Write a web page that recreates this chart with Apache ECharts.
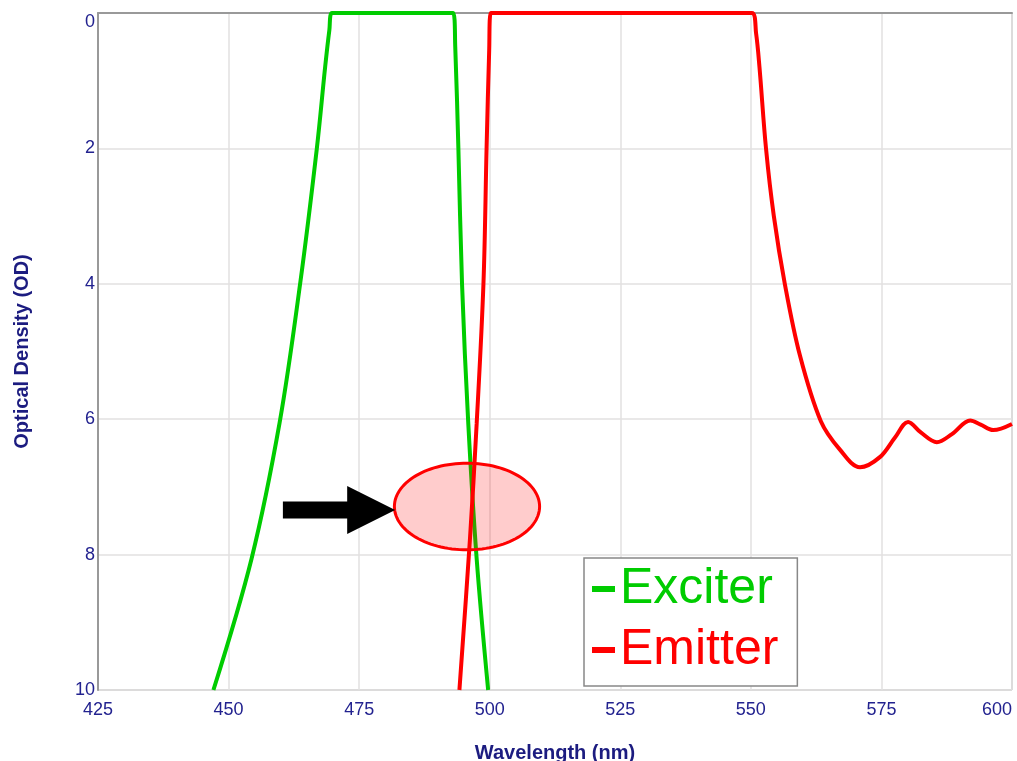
<!DOCTYPE html>
<html>
<head>
<meta charset="utf-8">
<script src="https://cdn.jsdelivr.net/npm/echarts@6/dist/echarts.min.js"></script>
<style>
html,body{margin:0;padding:0;background:#fff;}
#chart{width:1017px;height:761px;}
</style>
</head>
<body>
<div id="chart"></div>
<script>
// ---- data (wavelength in nm, optical density in OD) ----
var xTicks = [425, 450, 475, 500, 525, 550, 575, 600];
var yTicks = [0, 2, 4, 6, 8, 10];

var exciterWavelength = [447.1, 454.4, 459.8, 463.7, 466.9, 468.5, 469.3, 469.8,
                         493.0, 493.4, 494.0, 494.7, 495.9, 497.5, 499.7];
var exciterOD         = [10, 8.06, 6.04, 4.0, 2.0, 0.79, 0.25, 0,
                         0, 0.5, 2.0, 4.0, 6.07, 8.06, 10];

var emitterWavelength = [494.2, 496.2, 497.5, 498.8, 499.4, 499.9, 500.2,
                         550.2, 551.0, 551.65, 552.9, 554.4, 556.5, 559.4, 563.4, 567.05, 570.9,
                         574.7, 577.6, 580.1, 582.6, 585.6, 588.5, 592.0, 594.0, 596.4, 600.0];
var emitterOD         = [10, 7.79, 6.07, 4.0, 2.0, 0.55, 0,
                         0, 0.3, 0.8, 2.0, 3.0, 4.0, 5.06, 6.03, 6.45, 6.71,
                         6.56, 6.27, 6.04, 6.2, 6.34, 6.22, 6.02, 6.08, 6.16, 6.07];

// annotation: highlighted crossover ellipse (center, radii in data units) and arrow (tail -> tip)
var ellipseCenter = [495.65, 7.29];
var ellipseRadius = [13.9, 0.64];
var arrowTail = [460.4, 7.34];
var arrowTip  = [481.9, 7.34];

var seriesNames = ['Exciter', 'Emitter'];
var seriesColors = ['#00cc00', '#ff0000'];

function zip(xs, ys){ var out = []; for (var i = 0; i < xs.length; i++) out.push([xs[i], ys[i]]); return out; }

var labelColor = '#22228f';
var chart = echarts.init(document.getElementById('chart'), null, {renderer: 'canvas'});

var option = {
  animation: false,
  backgroundColor: '#ffffff',
  grid: {left: 98, right: 5, top: 13, bottom: 71, show: true, borderColor: '#999', borderWidth: 1,
         backgroundColor: 'transparent', containLabel: false, outerBoundsMode: 'none'},
  xAxis: {
    type: 'value', min: xTicks[0], max: xTicks[xTicks.length - 1], interval: 25,
    name: 'Wavelength (nm)', nameLocation: 'middle', nameGap: 53,
    nameTextStyle: {color: '#1c1c80', fontFamily: 'Liberation Sans', fontWeight: 'bold', fontSize: 20},
    axisLine: {show: true, lineStyle: {color: '#999', width: 2}},
    axisTick: {show: false},
    axisLabel: {color: labelColor, fontFamily: 'Liberation Sans', fontSize: 18, margin: 11, alignMaxLabel: 'right'},
    splitLine: {show: true, lineStyle: {color: '#e2e0e0', width: 1.5}}
  },
  yAxis: {
    type: 'value', min: yTicks[0], max: yTicks[yTicks.length - 1], interval: 2, inverse: true,
    name: 'Optical Density (OD)', nameLocation: 'middle', nameGap: 66,
    nameTextStyle: {color: '#1c1c80', fontFamily: 'Liberation Sans', fontWeight: 'bold', fontSize: 20},
    axisLine: {show: true, lineStyle: {color: '#999', width: 2}},
    axisTick: {show: false},
    axisLabel: {color: labelColor, fontFamily: 'Liberation Sans', fontSize: 18, margin: 3, verticalAlignMinLabel: 'top'},
    splitLine: {show: true, lineStyle: {color: '#e2e0e0', width: 1.5}}
  },
  legend: {
    orient: 'vertical', left: 584, top: 558,
    padding: [6, 19, 11, 8], itemGap: 11,
    itemWidth: 23, itemHeight: 6, icon: 'rect',
    backgroundColor: '#fff', borderColor: '#888', borderWidth: 1.5,
    textStyle: {fontFamily: 'Liberation Sans', fontSize: 50},
    data: [
      {name: seriesNames[0], textStyle: {color: seriesColors[0]}},
      {name: seriesNames[1], textStyle: {color: seriesColors[1]}}
    ]
  },
  series: [
    {
      name: seriesNames[0], type: 'line', data: zip(exciterWavelength, exciterOD),
      showSymbol: false, symbol: 'none', smooth: 0.35,
      lineStyle: {color: seriesColors[0], width: 4}, itemStyle: {color: seriesColors[0]}, z: 2
    },
    {
      name: seriesNames[1], type: 'line', data: zip(emitterWavelength, emitterOD),
      showSymbol: false, symbol: 'none', smooth: 0.35,
      lineStyle: {color: seriesColors[1], width: 4}, itemStyle: {color: seriesColors[1]}, z: 3
    },
    {
      name: 'annotation', type: 'custom', clip: false, z: 10, silent: true,
      data: [ellipseCenter],
      encode: {x: 0, y: 1},
      renderItem: function (params, api) {
        var c = api.coord(ellipseCenter);
        var s = api.size(ellipseRadius);
        var rx = Math.abs(s[0]), ry = Math.abs(s[1]);
        var pts = [];
        for (var i = 0; i < 120; i++) {
          var a = i / 120 * Math.PI * 2;
          pts.push([c[0] + rx * Math.cos(a), c[1] + ry * Math.sin(a)]);
        }
        var t0 = api.coord(arrowTail), t1 = api.coord(arrowTip);
        var headLen = 48, headHalf = 24, shaftHalf = 8.5;
        var bx = t1[0] - headLen, y = t1[1];
        var arrow = [[t0[0], y - shaftHalf], [bx, y - shaftHalf], [bx, y - headHalf], [t1[0], y],
                     [bx, y + headHalf], [bx, y + shaftHalf], [t0[0], y + shaftHalf]];
        return {
          type: 'group',
          children: [
            {type: 'polygon', shape: {points: pts}, style: {fill: 'rgba(255,0,0,0.2)', stroke: '#ff0000', lineWidth: 3}},
            {type: 'polygon', shape: {points: arrow}, style: {fill: '#000000'}}
          ]
        };
      }
    }
  ]
};
chart.setOption(option);
</script>
</body>
</html>
